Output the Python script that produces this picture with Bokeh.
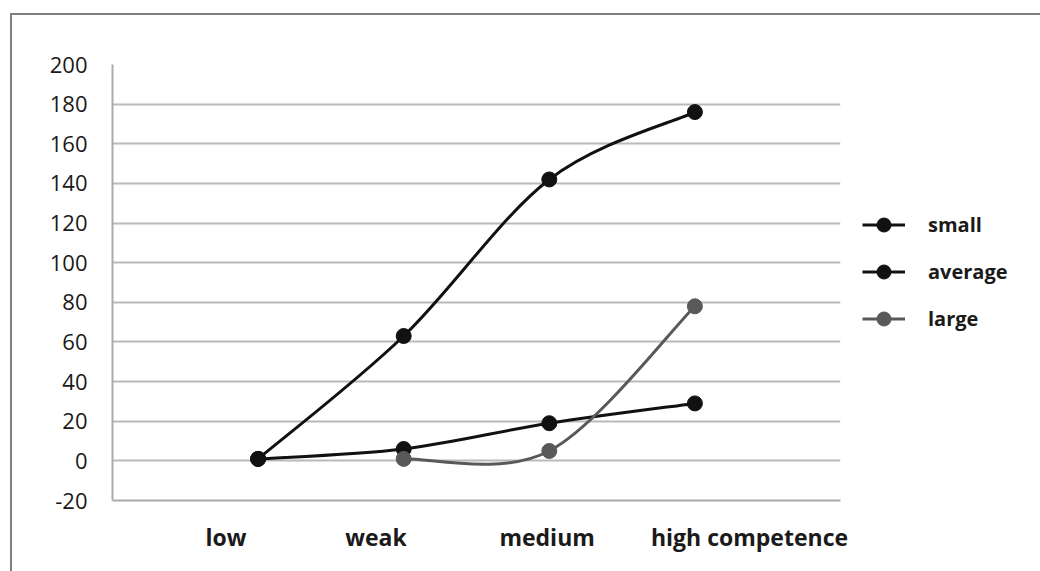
from bokeh.plotting import figure
from bokeh.models import (ColumnDataSource, FixedTicker, Legend, LegendItem,
                          Range1d)
from bokeh.embed import file_html
from bokeh.resources import INLINE

# Competence levels (x categories) and the three series
categories = ["low", "weak", "medium", "high competence"]
small = [1, 63, 142, 176]
average = [1, 6, 19, 29]
large = [None, 1, 5, 78]

series_names = ["small", "average", "large"]
series_values = [small, average, large]
series_colors = ["#111111", "#111111", "#595959"]

# Where the category labels sit along the x axis (data units)
label_pos = [0.78, 1.81, 2.985, 4.375]

y_ticks = list(range(-20, 201, 20))

FONT = "Open Sans"

p = figure(frame_width=728, frame_height=436,
           x_range=Range1d(0, 5), y_range=Range1d(-20, 200),
           output_backend="svg", toolbar_location=None,
           min_border_left=100, min_border_right=212,
           min_border_top=49, min_border_bottom=86)
p.styles = {"margin-left": "10px", "margin-top": "13px",
            "border-left": "2px solid #7f7f7f",
            "border-top": "2px solid #7f7f7f"}
p.outline_line_color = None
p.background_fill_color = "white"
p.border_fill_color = "white"

# Axes
p.yaxis.ticker = FixedTicker(ticks=y_ticks)
p.yaxis.major_label_overrides = {t: str(t) for t in y_ticks}
p.yaxis.major_tick_line_color = None
p.yaxis.minor_tick_line_color = None
p.yaxis.axis_line_color = "#ababab"
p.yaxis.axis_line_width = 2
p.yaxis.major_label_text_font = FONT
p.yaxis.major_label_text_font_size = "22px"
p.yaxis.major_label_text_color = "#1a1a1a"
p.yaxis.major_label_standoff = 19

p.xaxis.ticker = FixedTicker(ticks=label_pos)
p.xaxis.major_label_overrides = {pos: lab for pos, lab in zip(label_pos, categories)}
p.xaxis.major_tick_line_color = None
p.xaxis.minor_tick_line_color = None
p.xaxis.axis_line_color = "#ababab"
p.xaxis.axis_line_width = 2
p.xaxis.major_label_text_font = FONT
p.xaxis.major_label_text_font_size = "23px"
p.xaxis.major_label_text_font_style = "bold"
p.xaxis.major_label_text_color = "#1a1a1a"
p.xaxis.major_label_standoff = 14

p.xgrid.grid_line_color = None
p.ygrid.ticker = FixedTicker(ticks=y_ticks)
p.ygrid.grid_line_color = "#bababa"
p.ygrid.grid_line_width = 2


def smooth_segments(xs, ys):
    """Cubic Bezier segments through the points (Catmull-Rom style smoothing)."""
    pts = [(x, y) for x, y in zip(xs, ys) if y is not None]
    seg = dict(x0=[], y0=[], x1=[], y1=[], cx0=[], cy0=[], cx1=[], cy1=[])
    n = len(pts)
    for i in range(n - 1):
        p0 = pts[i - 1] if i > 0 else pts[i]
        p1 = pts[i]
        p2 = pts[i + 1]
        p3 = pts[i + 2] if i + 2 < n else pts[i + 1]
        seg["x0"].append(p1[0]); seg["y0"].append(p1[1])
        seg["x1"].append(p2[0]); seg["y1"].append(p2[1])
        seg["cx0"].append(p1[0] + (p2[0] - p0[0]) / 6)
        seg["cy0"].append(p1[1] + (p2[1] - p0[1]) / 6)
        seg["cx1"].append(p2[0] - (p3[0] - p1[0]) / 6)
        seg["cy1"].append(p2[1] - (p3[1] - p1[1]) / 6)
    return seg, pts


x_idx = [1, 2, 3, 4]
items = []
for name, vals, col in zip(series_names, series_values, series_colors):
    seg, pts = smooth_segments(x_idx, vals)
    src = ColumnDataSource(seg)
    r_line = p.bezier(x0="x0", y0="y0", x1="x1", y1="y1",
                      cx0="cx0", cy0="cy0", cx1="cx1", cy1="cy1",
                      source=src, line_color=col, line_width=3)
    r_pts = p.scatter([q[0] for q in pts], [q[1] for q in pts], size=15,
                      marker="circle", fill_color=col, line_color=col)
    items.append(LegendItem(label=name, renderers=[r_line, r_pts]))

legend = Legend(items=items, location=(22, 164),
                orientation="vertical",
                label_text_font=FONT, label_text_font_size="20px",
                label_text_font_style="bold", label_text_color="#1a1a1a",
                glyph_width=43, glyph_height=35, label_height=35,
                label_standoff=23, spacing=12, padding=0, margin=0,
                border_line_color=None, background_fill_alpha=0)
p.add_layout(legend, "right")

html = file_html(p, INLINE)
# keep the page itself from scrolling; the chart box runs off the right/bottom edge
html = html.replace("<head>", "<head><style>html,body{margin:0;overflow:hidden}</style>", 1)
open("out.html", "w").write(html)
